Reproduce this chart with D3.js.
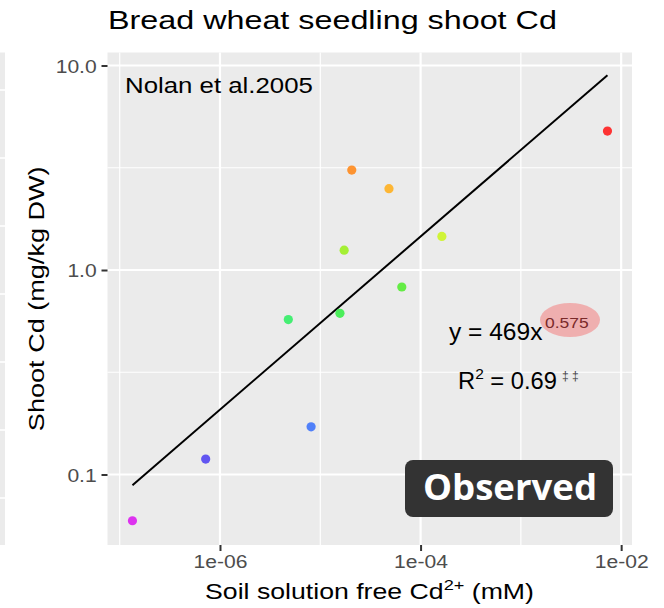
<!DOCTYPE html>
<html>
<head>
<meta charset="utf-8">
<script src="https://cdn.jsdelivr.net/npm/d3@7/dist/d3.min.js"></script>
<style>
  html, body { margin: 0; padding: 0; background: #ffffff; }
  svg { display: block; font-family: "Liberation Sans", Arial, sans-serif; }
</style>
</head>
<body>
<svg id="chart" width="664" height="608"></svg>
<script>
// Soil solution free Cd2+ (mM) and shoot Cd (mg/kg DW), one entry per soil
const freeCd  = [1.34e-7, 7.2e-7, 8.1e-6, 4.8e-6, 1.57e-5, 6.5e-5, 1.73e-5, 1.63e-4, 2.06e-5, 4.84e-5, 7.3e-3];
const shootCd = [0.0594, 0.119, 0.171, 0.572, 0.614, 0.826, 1.25, 1.46, 3.08, 2.50, 4.78];
const pointColours = ["#dc1ef0", "#5245f2", "#3f74fb", "#33ee66", "#3aee4a", "#55ec33", "#9cf020", "#cdf524", "#ff8a1c", "#ffb020", "#ff1f1f"];

const xTicks = [1e-6, 1e-4, 1e-2];
const xTickLabels = ["1e-06", "1e-04", "1e-02"];
const xMinor = [1e-7, 1e-5, 1e-3];
const yTicks = [0.1, 1, 10];
const yTickLabels = ["0.1", "1.0", "10.0"];
const yMinor = [Math.sqrt(0.1 * 1), Math.sqrt(1 * 10)];

const titleText = "Bread wheat seedling shoot Cd";
const sourceText = "Nolan et al.2005";
const eqCoef = "469";
const eqExp = "0.575";
const rSquared = "0.69";
const badgeText = "Observed";

const svg = d3.select("#chart");
const panel = { left: 107.5, right: 632, top: 52.5, bottom: 545 };

const x = d3.scaleLog().domain([Math.pow(10, -7.1216), Math.pow(10, -1.892)]).range([panel.left, panel.right]);
const y = d3.scaleLog().domain([Math.pow(10, -1.3447), Math.pow(10, 1.0636)]).range([panel.bottom, panel.top]);

// Text is set in a wide face: each label is widened to its target run length
function wideText(parent, px, py, width, opts = {}) {
  const g = parent.append("g")
    .attr("transform", `translate(${px},${py})` + (opts.rotate ? ` rotate(${opts.rotate})` : ""));
  const t = g.append("text").attr("x", 0).attr("y", 0)
    .attr("text-anchor", opts.anchor || "start")
    .style("font-size", (opts.size || 20) + "px")
    .style("font-family", opts.family || "Liberation Sans, Arial, sans-serif")
    .style("font-weight", opts.weight || "400")
    .attr("fill", opts.fill || "#000");
  if (opts.build) opts.build(t); else t.text(opts.text);
  const w = t.node().getBBox().width;
  t.attr("transform", `scale(${width / w},1)`);
  return t;
}

// neighbouring panel fragment at the far left edge
const stripY = d3.scaleLinear().domain([0, 7]).range([22, 498]);
svg.append("rect").attr("x", 0).attr("y", panel.top).attr("width", 5)
   .attr("height", panel.bottom - panel.top).attr("fill", "#ebebeb");
svg.append("g").selectAll("line").data(d3.range(1, 8)).join("line")
   .attr("x1", 0).attr("x2", 5)
   .attr("y1", d => stripY(d)).attr("y2", d => stripY(d))
   .attr("stroke", "#ffffff").attr("stroke-width", 1.6);

// panel background and grid
svg.append("rect").attr("x", panel.left).attr("y", panel.top)
   .attr("width", panel.right - panel.left).attr("height", panel.bottom - panel.top)
   .attr("fill", "#ebebeb");

const grid = svg.append("g");
grid.selectAll(".xminor").data(xMinor).join("line")
   .attr("x1", d => x(d)).attr("x2", d => x(d)).attr("y1", panel.top).attr("y2", panel.bottom)
   .attr("stroke", "#fff").attr("stroke-width", 1.2);
grid.selectAll(".yminor").data(yMinor).join("line")
   .attr("y1", d => y(d)).attr("y2", d => y(d)).attr("x1", panel.left).attr("x2", panel.right)
   .attr("stroke", "#fff").attr("stroke-width", 1.2);
grid.selectAll(".xmajor").data(xTicks).join("line")
   .attr("x1", d => x(d)).attr("x2", d => x(d)).attr("y1", panel.top).attr("y2", panel.bottom)
   .attr("stroke", "#fff").attr("stroke-width", 2.2);
grid.selectAll(".ymajor").data(yTicks).join("line")
   .attr("y1", d => y(d)).attr("y2", d => y(d)).attr("x1", panel.left).attr("x2", panel.right)
   .attr("stroke", "#fff").attr("stroke-width", 2.2);

// axes
const tickStretch = 1.14;
const xAxis = svg.append("g").attr("transform", `translate(0,${panel.bottom})`)
  .call(d3.axisBottom(x).tickValues(xTicks).tickFormat((d, i) => xTickLabels[i]).tickSize(6));
const yAxis = svg.append("g").attr("transform", `translate(${panel.left},0)`)
  .call(d3.axisLeft(y).tickValues(yTicks).tickFormat((d, i) => yTickLabels[i]).tickSize(6));
[xAxis, yAxis].forEach(a => {
  a.select(".domain").remove();
  a.selectAll(".tick line").attr("stroke", "#333333").attr("stroke-width", 2);
  a.selectAll(".tick text").attr("fill", "#4d4d4d").style("font-size", "18.5px")
   .style("font-family", "Liberation Sans, Arial, sans-serif")
   .attr("transform", `scale(${tickStretch},1)`);
});
xAxis.selectAll(".tick text").attr("y", 23).attr("dy", 0);
yAxis.selectAll(".tick text").attr("x", -10.8 / tickStretch).attr("dy", "0.36em");

// least-squares fit in log-log space
const lx = freeCd.map(Math.log10), ly = shootCd.map(Math.log10);
const mx = d3.mean(lx), my = d3.mean(ly);
const slope = d3.sum(lx, (v, i) => (v - mx) * (ly[i] - my)) / d3.sum(lx, v => (v - mx) * (v - mx));
const intercept = my - slope * mx;
const fitLine = d3.extent(freeCd).map(v => [v, Math.pow(10, intercept + slope * Math.log10(v))]);
svg.append("path").datum(fitLine)
   .attr("d", d3.line().x(d => x(d[0])).y(d => y(d[1])))
   .attr("fill", "none").attr("stroke", "#000").attr("stroke-width", 2);

// points
svg.append("g").selectAll("circle").data(freeCd).join("circle")
   .attr("cx", d => x(d)).attr("cy", (d, i) => y(shootCd[i])).attr("r", 4.6)
   .attr("fill", (d, i) => pointColours[i]).attr("opacity", 0.9);

// title and axis titles
wideText(svg, 108, 28.5, 449, { size: 25.5, text: titleText });
wideText(svg, 369.5, 599, 329, { size: 22, anchor: "middle", build: t => {
  t.append("tspan").text("Soil solution free Cd");
  t.append("tspan").text("2+").attr("dy", -9).style("font-size", "15px");
  t.append("tspan").text(" (mM)").attr("dy", 9);
}});
wideText(svg, 43.5, (panel.top + panel.bottom) / 2, 265,
  { size: 22, anchor: "middle", rotate: -90, text: "Shoot Cd (mg/kg DW)" });

// source note
wideText(svg, 125, 93.3, 188, { size: 21.8, text: sourceText });

// equation with highlighted exponent
svg.append("ellipse").attr("cx", 570).attr("cy", 320).attr("rx", 30).attr("ry", 17)
   .attr("fill", "#f0a0a0").attr("opacity", 0.8);
wideText(svg, 449, 340, 94, { size: 23, text: `y = ${eqCoef}x` });
wideText(svg, 545, 328, 44, { size: 14, fill: "#7a2a2a", text: eqExp });
wideText(svg, 458, 389, 99, { size: 23, build: t => {
  t.append("tspan").text("R");
  t.append("tspan").text("2").attr("dy", -10).style("font-size", "15px");
  t.append("tspan").text(` = ${rSquared}`).attr("dy", 10);
}});
svg.append("text").attr("x", 562).attr("y", 380).style("font-size", "12px").attr("fill", "#444")
   .text("\u2021 \u2021");

// badge
const badge = svg.append("g");
badge.append("rect").attr("x", 405).attr("y", 460).attr("width", 208).attr("height", 57)
   .attr("rx", 8).attr("fill", "#333333");
wideText(badge, 510, 500, 174, { size: 35, anchor: "middle", weight: "700",
  family: "Open Sans, sans-serif", fill: "#ffffff", text: badgeText });
</script>
</body>
</html>
